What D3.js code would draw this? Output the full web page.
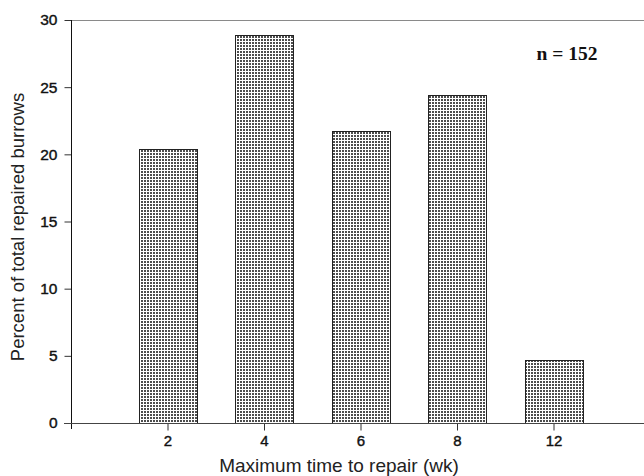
<!DOCTYPE html>
<html>
<head>
<meta charset="utf-8">
<script src="https://cdn.jsdelivr.net/npm/d3@7"></script>
<style>
  html, body { margin: 0; padding: 0; background: #fff; }
  svg { display: block; }
</style>
</head>
<body>
<svg id="chart" width="644" height="476"></svg>
<script>
const categories = ["2", "4", "6", "8", "12"];
const values = [20.4, 28.9, 21.7, 24.4, 4.7];
const yTicks = [0, 5, 10, 15, 20, 25, 30];
const xTitle = "Maximum time to repair (wk)";
const yTitle = "Percent of total repaired burrows";
const note = "n = 152";

const svg = d3.select("#chart");
const mLeft = 71, mRight = 650, mTop = 20, mBottom = 423;

const x = d3.scalePoint().domain(categories).range([mLeft, mRight]).padding(1);
const y = d3.scaleLinear().domain([0, 30]).range([mBottom, mTop]);
const barW = 58;

const defs = svg.append("defs");
const pat = defs.append("pattern").attr("id", "dots")
  .attr("patternUnits", "userSpaceOnUse").attr("width", 3).attr("height", 3);
pat.append("rect").attr("width", 3).attr("height", 3).attr("fill", "#fff");
pat.append("rect").attr("x", 0).attr("y", 0).attr("width", 2).attr("height", 2).attr("fill", "#4d4d4d");

// top frame line
svg.append("line").attr("x1", mLeft).attr("x2", 644).attr("y1", y(30) + 0.5).attr("y2", y(30) + 0.5)
  .attr("stroke", "#8a8a8a").attr("stroke-width", 1.2);

// bars
svg.append("g").selectAll("rect").data(categories).join("rect")
  .attr("x", d => Math.round(x(d) - barW / 2) + 0.5)
  .attr("y", (d, i) => Math.round(y(values[i])) + 0.5)
  .attr("width", barW)
  .attr("height", (d, i) => Math.round(y(0)) - Math.round(y(values[i])))
  .attr("fill", "url(#dots)")
  .attr("stroke", "#222")
  .attr("stroke-width", 1);

const tickFont = "Liberation Sans, Arial, sans-serif";

// y axis
const yAxis = d3.axisLeft(y).tickValues(yTicks).tickSize(7).tickPadding(7).tickFormat(d3.format("d"));
const gy = svg.append("g").attr("transform", `translate(${mLeft + 0.5},0)`).call(yAxis);
gy.select(".domain").remove();
gy.append("line").attr("x1", 0).attr("x2", 0).attr("y1", mTop).attr("y2", mBottom + 6).attr("stroke", "#111");
gy.selectAll(".tick line").attr("stroke", "#333");
gy.selectAll("text").attr("font-family", tickFont)
  .attr("font-size", 15.5).attr("fill", "#111").attr("stroke", "#111").attr("stroke-width", 0.4);

// x axis
const xAxis = d3.axisBottom(x).tickSize(7).tickPadding(5);
const gx = svg.append("g").attr("transform", `translate(0,${mBottom + 0.5})`).call(xAxis);
gx.select(".domain").remove();
gx.append("line").attr("x1", mLeft - 7).attr("x2", 644).attr("y1", 0).attr("y2", 0).attr("stroke", "#444").attr("stroke-width", 1.2);
gx.selectAll(".tick line").attr("stroke", "#333");
gx.selectAll("text").attr("font-family", tickFont)
  .attr("font-size", 15).attr("fill", "#111").attr("stroke", "#111").attr("stroke-width", 0.4);

// axis titles
svg.append("text").attr("x", 339).attr("y", 472).attr("text-anchor", "middle")
  .attr("font-family", tickFont).attr("font-size", 19).attr("fill", "#222")
  .text(xTitle);
svg.append("text").attr("transform", "translate(24,227) rotate(-90)").attr("text-anchor", "middle")
  .attr("font-family", tickFont).attr("font-size", 18.5).attr("fill", "#222")
  .text(yTitle);

// annotation
svg.append("text").attr("x", 567).attr("y", 60).attr("text-anchor", "middle")
  .attr("font-family", "Liberation Serif, Times New Roman, serif").attr("font-size", 19.5)
  .attr("font-weight", "bold").attr("fill", "#111").text(note);
</script>
</body>
</html>
